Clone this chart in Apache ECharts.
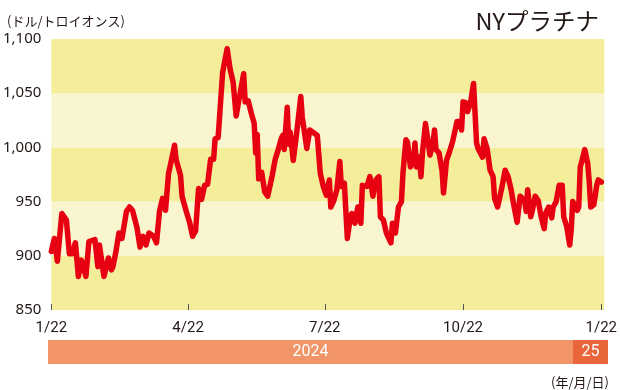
<!DOCTYPE html>
<html><head><meta charset="utf-8">
<script src="https://cdn.jsdelivr.net/npm/echarts@6/dist/echarts.min.js"></script>
<style>html,body{margin:0;padding:0;background:#fff;}#c{width:620px;height:390px;}</style>
</head><body><div id="c"></div>
<script>
const dates = ['2024-01-22','2024-01-24','2024-01-26','2024-01-29','2024-02-01','2024-02-03','2024-02-05','2024-02-07','2024-02-09','2024-02-11','2024-02-14','2024-02-16','2024-02-20','2024-02-22','2024-02-23','2024-02-26','2024-02-29','2024-03-02','2024-03-03','2024-03-05','2024-03-07','2024-03-09','2024-03-12','2024-03-14','2024-03-16','2024-03-19','2024-03-21','2024-03-23','2024-03-25','2024-03-27','2024-03-30','2024-04-01','2024-04-03','2024-04-05','2024-04-07','2024-04-09','2024-04-10','2024-04-13','2024-04-14','2024-04-17','2024-04-18','2024-04-21','2024-04-23','2024-04-25','2024-04-27','2024-04-29','2024-05-01','2024-05-03','2024-05-05','2024-05-07','2024-05-09','2024-05-10','2024-05-12','2024-05-15','2024-05-18','2024-05-20','2024-05-22','2024-05-24','2024-05-26','2024-05-29','2024-05-30','2024-06-01','2024-06-03','2024-06-05','2024-06-06','2024-06-07','2024-06-08','2024-06-10','2024-06-12','2024-06-14','2024-06-17','2024-06-19','2024-06-21','2024-06-23','2024-06-24','2024-06-25','2024-06-27','2024-06-28','2024-06-29','2024-07-01','2024-07-03','2024-07-06','2024-07-07','2024-07-10','2024-07-12','2024-07-15','2024-07-17','2024-07-19','2024-07-21','2024-07-23','2024-07-25','2024-07-26','2024-07-28','2024-07-30','2024-08-01','2024-08-02','2024-08-04','2024-08-06','2024-08-08','2024-08-09','2024-08-11','2024-08-13','2024-08-15','2024-08-16','2024-08-19','2024-08-21','2024-08-23','2024-08-25','2024-08-27','2024-08-28','2024-08-30','2024-09-01','2024-09-04','2024-09-05','2024-09-07','2024-09-09','2024-09-11','2024-09-12','2024-09-14','2024-09-15','2024-09-17','2024-09-19','2024-09-20','2024-09-21','2024-09-23','2024-09-24','2024-09-25','2024-09-27','2024-09-28','2024-09-30','2024-10-02','2024-10-03','2024-10-04','2024-10-06','2024-10-08','2024-10-09','2024-10-11','2024-10-13','2024-10-15','2024-10-16','2024-10-18','2024-10-20','2024-10-21','2024-10-22','2024-10-24','2024-10-25','2024-10-27','2024-10-29','2024-10-31','2024-11-01','2024-11-04','2024-11-05','2024-11-07','2024-11-09','2024-11-11','2024-11-12','2024-11-14','2024-11-15','2024-11-17','2024-11-19','2024-11-21','2024-11-23','2024-11-25','2024-11-27','2024-11-29','2024-12-02','2024-12-03','2024-12-04','2024-12-06','2024-12-07','2024-12-09','2024-12-11','2024-12-13','2024-12-15','2024-12-16','2024-12-18','2024-12-20','2024-12-21','2024-12-23','2024-12-25','2024-12-27','2024-12-28','2024-12-30','2025-01-01','2025-01-02','2025-01-03','2025-01-06','2025-01-07','2025-01-08','2025-01-09','2025-01-11','2025-01-13','2025-01-14','2025-01-15','2025-01-17','2025-01-19','2025-01-20','2025-01-22'];
const prices = [904,916,895,939,933,902,902,912,881,896,881,913,915,890,910,881,898,887,890,904,921,916,941,945,942,926,908,918,910,921,918,912,941,953,942,976,982,1002,989,974,955,940,931,918,923,962,952,965,966,989,989,1008,1009,1069,1091,1072,1060,1029,1045,1068,1042,1043,1032,1022,995,1012,971,977,959,955,974,989,998,1008,1011,998,1037,1003,1014,988,1010,1047,1028,999,1016,1013,1011,976,964,956,970,945,951,961,987,964,967,916,936,939,930,945,930,965,964,973,955,970,973,936,933,921,912,930,921,945,950,976,1007,1005,982,988,1004,982,991,973,995,1022,1021,993,1004,1016,998,995,979,958,988,996,1005,1004,1024,1024,1016,1042,1041,1033,1041,1059,1004,999,991,1008,999,979,973,953,945,945,964,979,973,961,945,931,955,951,941,961,936,941,955,951,936,925,939,945,935,945,950,965,965,936,927,910,924,950,942,945,982,987,998,985,968,945,947,965,970,968];
const tickDates = ['2024-01-22','2024-04-22','2024-07-22','2024-10-22','2025-01-22'];
const tickLabels = ['1/22','4/22','7/22','10/22','1/22'];
const yTicks = [850,900,950,1000,1050,1100];
const yTickLabels = ['850','900','950','1,000','1,050','1,100'];
const yearStarts = ['2024-01-22','2025-01-01'];
const yearEnds = ['2025-01-01','2025-01-24'];
const yearLabels = ['2024','25'];
const xMin = '2024-01-22', xMax = '2025-01-24';

const T = s => { const [y,m,d] = s.split('-').map(Number); return new Date(y, m-1, d).getTime(); };
const tickTs = tickDates.map(T);
const chart = echarts.init(document.getElementById('c'), null, {renderer:'canvas'});
const yearColors = ['#F19468','#E8663A'];
chart.setOption({
  animation:false,
  backgroundColor:'#fff',
  title:[
    {text:'NYプラチナ', right:16, top:4, textStyle:{fontFamily:'Noto Sans CJK JP',fontSize:23.5,fontWeight:'normal',color:'#231815'}},
    {text:'(ドル/トロイオンス)', left:2, top:10, textStyle:{fontFamily:'Noto Sans CJK JP',fontSize:13,fontWeight:'normal',color:'#231815'}},
    {text:'(年/月/日)', right:6, top:371, textStyle:{fontFamily:'Noto Sans CJK JP',fontSize:13,fontWeight:'normal',color:'#231815'}}
  ],
  grid:[
    {left:48,right:12,top:39,bottom:80},
    {left:48,right:12,top:340,height:24}
  ],
  xAxis:[
    {type:'value',gridIndex:0,min:T(xMin),max:T(xMax),
     axisLine:{show:false},
     axisTick:{show:true,inside:true,length:6,lineStyle:{color:'#555',width:1},customValues:tickTs},
     axisLabel:{show:true,margin:11,fontFamily:'Roboto',fontSize:15,color:'#231815',customValues:tickTs,
       formatter:v=>tickLabels[tickTs.indexOf(v)]},
     splitLine:{show:false}},
    {type:'value',gridIndex:1,min:T(xMin),max:T(xMax),show:false}
  ],
  yAxis:[
    {type:'value',gridIndex:0,min:850,max:1100,interval:50,
     axisLine:{show:false},axisTick:{show:false},
     axisLabel:{margin:10,fontFamily:'Noto Sans',fontSize:15,color:'#231815',
       formatter:v=>yTickLabels[yTicks.indexOf(v)]},
     splitLine:{show:false},
     splitArea:{show:true,areaStyle:{color:['#F4EE9A','#F9F5CF']}}},
    {type:'value',gridIndex:1,min:0,max:1,show:false}
  ],
  series:[
    {type:'line',xAxisIndex:0,yAxisIndex:0,data:dates.map((d,i)=>[T(d),prices[i]]),
     showSymbol:false,symbol:'none',clip:false,
     lineStyle:{color:'#E60012',width:5.5,join:'round',cap:'round'},z:5},
    {type:'custom',xAxisIndex:1,yAxisIndex:1,
     data:yearStarts.map((s,i)=>[T(s),T(yearEnds[i]),i]),
     renderItem:(params,api)=>{
       const p0=api.coord([api.value(0),1]);
       const p1=api.coord([api.value(1),0]);
       const idx=api.value(2);
       return {type:'group',children:[
         {type:'rect',shape:{x:p0[0],y:p0[1],width:p1[0]-p0[0],height:p1[1]-p0[1]},style:{fill:yearColors[idx]}},
         {type:'text',style:{text:yearLabels[idx],x:(p0[0]+p1[0])/2,y:(p0[1]+p1[1])/2,align:'center',verticalAlign:'middle',fill:'#fff',font:'16px Roboto'}}
       ]};
     }}
  ]
});
</script></body></html>
